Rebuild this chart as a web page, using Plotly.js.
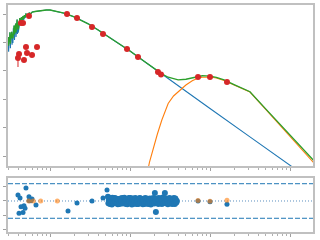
<!DOCTYPE html>
<html><head><meta charset="utf-8">
<script src="https://cdn.plot.ly/plotly-3.0.1.min.js"></script>
<style>html,body{margin:0;padding:0;background:#fff;}#chart{width:320px;height:240px;}</style>
</head><body><div id="chart"></div>
<script>
// Stellar model (µm, Jy)
const starWl = [0.300,0.304,0.308,0.312,0.316,0.320,0.324,0.328,0.332,0.336,0.340,0.344,0.348,0.352,0.356,0.360,0.364,0.368,0.372,0.376,0.380,0.384,0.388,0.392,0.396,0.400,0.41,0.42,0.43,0.44,0.45,0.46,0.47,0.48,0.49,0.50,0.525,0.55,0.575,0.60,0.65,0.70,0.80,0.90,1.0,1.2,1.5,2.0,2.5,3.0,4.0,5.0,7.0,10,15,20,25,30,50,100,300,1000,2000];
const starF = [0.156,0.0471,0.148,0.1067,0.225,0.0625,0.172,0.151,0.236,0.0823,0.199,0.0945,0.316,0.206,0.391,0.1215,0.327,0.234,0.463,0.155,0.448,0.351,0.635,0.196,0.455,0.220,0.322,0.723,0.410,0.784,0.482,0.850,0.615,0.922,0.723,1.0,0.922,1.084,1.0,1.176,1.225,1.275,1.328,1.383,1.383,1.245,1.067,0.797,0.595,0.452,0.275,0.184,0.100,0.0498,0.0216,0.0120,0.00759,0.00523,0.00188,0.000471,0.0000523,0.00000471,0.00000118];
// Dust model
const dustWl = [15,16,17.5,20,22,25,30,35,40,50,60,70,80,90,100,120,150,200,250,316,500,1000,2000];
const dustF = [8.7e-7,1.68e-6,6.0e-6,2.44e-5,5.95e-5,1.85e-4,7.06e-4,1.30e-3,1.87e-3,3.16e-3,4.45e-3,5.49e-3,5.95e-3,6.05e-3,6.05e-3,5.57e-3,4.55e-3,3.16e-3,2.38e-3,1.79e-3,4.27e-4,4.90e-5,5.57e-6];
// Total model
const totWl = [0.300,0.304,0.308,0.312,0.316,0.320,0.324,0.328,0.332,0.336,0.340,0.344,0.348,0.352,0.356,0.360,0.364,0.368,0.372,0.376,0.380,0.384,0.388,0.392,0.396,0.400,0.41,0.42,0.43,0.44,0.45,0.46,0.47,0.48,0.49,0.50,0.525,0.55,0.575,0.60,0.65,0.70,0.80,0.90,1.0,1.2,1.5,2.0,2.5,3.0,4.0,5.0,7.0,10,15,20,22,25,30,35,40,50,60,70,80,90,100,120,150,200,250,316,500,1000,2000];
const totF = [0.156,0.0766,0.148,0.1067,0.225,0.0900,0.172,0.151,0.236,0.1406,0.199,0.137,0.316,0.206,0.391,0.190,0.327,0.234,0.463,0.225,0.448,0.351,0.635,0.306,0.455,0.280,0.410,0.723,0.482,0.784,0.567,0.850,0.667,0.922,0.784,1.0,0.960,1.084,1.041,1.176,1.225,1.275,1.328,1.383,1.383,1.245,1.067,0.797,0.595,0.452,0.275,0.184,0.100,0.0498,0.0216,0.0120,0.00956,0.00778,0.00594,0.00514,0.00481,0.00504,0.00576,0.00645,0.00669,0.00663,0.00652,0.00590,0.00476,0.00328,0.00246,0.00184,0.000446,0.0000537,0.00000675];
// Photometry
const photWl = [0.434,0.460,0.546,0.501,0.688,0.410,0.516,0.596,0.398,0.473,1.631,2.175,3.350,4.597,9.173,12.59,22.39,24.43,70.8,100,163];
const photF = [0.482,0.482,0.850,0.0689,0.0689,0.0391,0.0423,0.036,0.0282,0.024,1.0,0.723,0.349,0.198,0.0586,0.0306,0.00908,0.00741,0.00605,0.00605,0.00403];
const photErrPlus = [0,0,0,0,0,0,0,0,0.0078,0,0,0,0,0,0,0,0,0,0,0,0];
const photErrMinus = [0,0,0,0,0,0,0,0,0.0146,0,0,0,0,0,0,0,0,0,0,0,0];
// Residuals: photometry
const resPhotWl = [0.398,0.422,0.501,0.546,0.550,0.579,0.596,0.434,0.473,0.487,0.410,0.460,0.668,1.679,2.175,3.350,4.597,5.158,70.8,100,163];
const resPhotVal = [0.42,0.20,0.90,0.30,0.02,0.02,0.14,-0.40,-0.33,-0.50,-0.85,-0.80,-0.28,-0.69,-0.14,0.00,0.20,0.76,0.0,-0.06,-0.22];
// Residuals: spectrum
const specWl = [5.3,5.45,5.6,5.77,5.94,6.11,6.29,6.47,6.66,6.86,7.06,7.26,7.47,7.69,7.92,8.15,8.39,8.63,8.88,9.14,9.41,9.68,9.97,10.26,10.56,10.87,11.18,11.51,11.85,12.19,12.55,12.91,13.29,13.68,14.08,14.49,14.91,15.35,15.8,16.26,16.73,17.22,17.72,18.24,18.77,19.32,19.88,20.46,21.06,21.68,22.31,22.96,23.63,24.32,25.03,25.76,26.51,27.29,28.08,28.9,29.75,30.62,31.51,32.43,33.38,34.35,35.36,36.39,37.45,38.5];
const specRes = [0.30,0.05,-0.20,0.15,-0.25,0.10,-0.10,0.20,-0.15,0.05,-0.22,0.12,-0.05,0.18,-0.18,0.02,-0.12,0.15,-0.20,0.08,-0.08,0.20,-0.15,0.10,-0.25,0.05,0.15,-0.10,0.10,-0.20,0.12,-0.05,0.20,-0.15,0.05,-0.22,0.15,-0.08,0.12,-0.18,0.08,-0.12,0.18,-0.25,0.05,-0.10,0.15,0.56,-0.76,0.10,-0.15,0.20,-0.05,0.15,-0.20,0.25,-0.10,0.56,-0.15,0.10,-0.22,0.05,0.15,-0.18,0.08,-0.12,0.20,-0.20,0.05,0.00];
const spec2Wl = [5.37,5.52,5.68,5.85,6.02,6.2,6.38,6.56,6.76,6.96,7.16,7.36,7.58,7.8,8.03,8.27,8.51,8.75,9.01,9.27,9.54,9.82,10.11,10.41,10.71,11.02,11.34,11.68,12.02,12.37,12.73,13.1,13.48,13.88,14.28,14.7,15.13,15.57,16.03,16.49,16.97,17.47,17.98,18.5,19.04,19.6,20.17,20.76,21.37,21.99,22.63,23.29,23.97,24.67,25.39,26.13,26.9,27.68,28.49,29.32,30.18,31.06,31.97,32.9,33.86,34.85,35.87,36.92,37.97];
const spec2Res = [-0.15,0.20,0.00,-0.10,0.22,-0.15,0.18,-0.05,0.15,-0.18,0.10,-0.20,0.15,0.00,0.20,-0.15,0.22,-0.05,0.12,-0.22,0.15,-0.05,0.20,-0.15,0.18,-0.20,0.00,0.20,-0.18,0.05,-0.20,0.18,-0.10,0.15,-0.15,0.10,-0.20,0.20,-0.05,0.15,-0.20,0.10,-0.10,0.15,-0.15,0.20,-0.18,0.10,-0.05,0.15,-0.20,0.05,-0.15,0.18,0.00,-0.15,0.20,-0.10,0.15,0.05,-0.15,0.20,-0.10,0.15,-0.20,0.08,-0.15,0.18,-0.10];
// Residuals: excluded points (orange)
const exWl = [0.542,0.618,0.765,1.234,70.8,100,163];
const exRes = [0,0,0,0,0.03,-0.02,0.05];
const limitLevel = 1.2;

const blue='#1f77b4', orange='#ff7f0e', green='#2ca02c', red='#d62728';
const traces = [
  {x:starWl,y:starF,type:'scatter',mode:'lines',line:{color:blue,width:1.1},xaxis:'x',yaxis:'y'},
  {x:dustWl,y:dustF,type:'scatter',mode:'lines',line:{color:orange,width:1.1},xaxis:'x',yaxis:'y'},
  {x:totWl,y:totF,type:'scatter',mode:'lines',line:{color:green,width:1.3},xaxis:'x',yaxis:'y'},
  {x:photWl,y:photF,type:'scatter',mode:'markers',marker:{color:red,size:6},
   error_y:{type:'data',symmetric:false,array:photErrPlus,arrayminus:photErrMinus,color:red,thickness:1,width:0},xaxis:'x',yaxis:'y'},
  {x:resPhotWl,y:resPhotVal,type:'scatter',mode:'markers',marker:{color:blue,size:5},xaxis:'x2',yaxis:'y2'},
  {x:specWl,y:specRes,type:'scatter',mode:'markers',marker:{color:blue,size:6},xaxis:'x2',yaxis:'y2'},
  {x:spec2Wl,y:spec2Res,type:'scatter',mode:'markers',marker:{color:blue,size:6},xaxis:'x2',yaxis:'y2'},
  {x:exWl,y:exRes,type:'scatter',mode:'markers',marker:{color:orange,size:5,opacity:0.6},xaxis:'x2',yaxis:'y2'}
];
const frame = {showline:true,mirror:true,linecolor:'#c0c0c0',linewidth:2,showgrid:false,zeroline:false,
  showticklabels:false,ticks:'outside',ticklen:3,tickcolor:'#a0a0a0',tickwidth:1};
const xcommon = Object.assign({},frame,{type:'log',range:[-0.525,3.2875],dtick:1,
  minor:{ticks:'outside',ticklen:2,tickcolor:'#b0b0b0',dtick:'D1'}});
const layout = {
  width:320,height:240,margin:{l:8,r:7,t:5,b:8},showlegend:false,
  paper_bgcolor:'#fff',plot_bgcolor:'#fff',
  xaxis:Object.assign({},xcommon,{anchor:'y'}),
  xaxis2:Object.assign({},xcommon,{anchor:'y2',matches:'x'}),
  yaxis:Object.assign({},frame,{type:'log',range:[-5.352,0.317],dtick:1,domain:[0.2907,1],anchor:'x'}),
  yaxis2:Object.assign({},frame,{range:[-2.153,1.597],dtick:1,tick0:0,domain:[0,0.2379],anchor:'x2'}),
  shapes:[
    {type:'line',xref:'paper',x0:0,x1:1,yref:'y2',y0:limitLevel,y1:limitLevel,layer:'below',line:{color:blue,width:1,dash:'5px,2px'}},
    {type:'line',xref:'paper',x0:0,x1:1,yref:'y2',y0:-limitLevel,y1:-limitLevel,layer:'below',line:{color:blue,width:1,dash:'5px,2px'}},
    {type:'line',xref:'paper',x0:0,x1:1,yref:'y2',y0:0,y1:0,layer:'below',line:{color:'#5a8fbf',width:1,dash:'1px,2px'}}
  ]
};
Plotly.newPlot('chart',traces,layout,{staticPlot:true,displayModeBar:false});
</script></body></html>
